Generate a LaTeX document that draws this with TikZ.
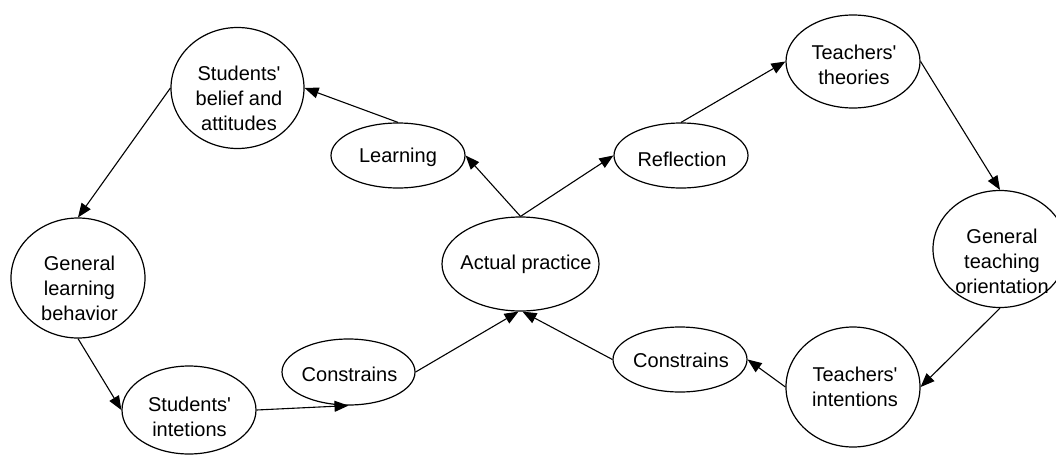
\documentclass[tikz,border=0pt]{standalone}
\usepackage{fontspec}
\setmainfont{Liberation Sans}
\usetikzlibrary{shapes.geometric,arrows.meta}
\newcommand{\apos}{\textquotesingle}
\begin{document}
\begin{tikzpicture}[x=1pt,y=-1pt,
  el/.style={ellipse,draw,line width=1.2pt,inner sep=0pt},
  lbl/.style={align=center,inner sep=0pt,font=\fontsize{20}{25}\selectfont},
  conn/.style={line width=1.1pt,-{Triangle[length=14pt,width=11pt]}}]
\useasboundingbox (0,0) rectangle (1056,455);
\node[el,minimum width=133pt,minimum height=121pt,label={[lbl,shift={(1.5,10)}]center:Students\apos\\belief and\\attitudes}] (sba) at (237.5,88) {};
\node[el,minimum width=134pt,minimum height=65pt,label={[lbl,shift={(0,1.5)}]center:Learning}] (lrn) at (398,155.5) {};
\node[el,minimum width=134pt,minimum height=65pt,label={[lbl,shift={(1,3.5)}]center:Reflection}] (ref) at (681,155.5) {};
\node[el,minimum width=134pt,minimum height=93pt,label={[lbl,shift={(1,3.5)}]center:Teachers\apos\\theories}] (tth) at (853,61.5) {};
\node[el,minimum width=134pt,minimum height=117pt,label={[lbl,shift={(2,12)}]center:General\\teaching\\orientation}] (gto) at (1000,249) {};
\node[el,minimum width=134pt,minimum height=120pt,label={[lbl,shift={(2,0)}]center:Teachers\apos\\intentions}] (tin) at (853,387) {};
\node[el,minimum width=134pt,minimum height=65pt,label={[lbl,shift={(1,1)}]center:Constrains}] (crr) at (680,359.5) {};
\node[el,minimum width=157pt,minimum height=94pt,label={[lbl,shift={(5.5,0)}]center:Actual practice}] (ap) at (520.5,264) {};
\node[el,minimum width=133pt,minimum height=66pt,label={[lbl,shift={(1,2.5)}]center:Constrains}] (crl) at (348.5,372) {};
\node[el,minimum width=134pt,minimum height=88pt,label={[lbl,shift={(0.5,7)}]center:Students\apos\\intetions}] (sin) at (189,410) {};
\node[el,minimum width=134pt,minimum height=120pt,label={[lbl,shift={(1.5,10.5)}]center:General\\learning\\behavior}] (glb) at (78,278) {};
\draw[conn] (lrn.north) -- (sba.east);
\draw[conn] (sba.west) -- (glb.north);
\draw[conn] (glb.south) -- (sin.west);
\draw[conn] (sin.east) -- (crl.south);
\draw[conn] (crl.east) -- ([xshift=-2pt]ap.south);
\draw[conn] (crr.west) -- ([xshift=2pt]ap.south);
\draw[conn] (tin.west) -- (crr.east);
\draw[conn] (gto.south) -- (tin.east);
\draw[conn] (tth.east) -- (gto.north);
\draw[conn] (ref.north) -- (tth.west);
\draw[conn] (ap.north) -- (lrn.east);
\draw[conn] (ap.north) -- (ref.west);
\end{tikzpicture}
\end{document}
